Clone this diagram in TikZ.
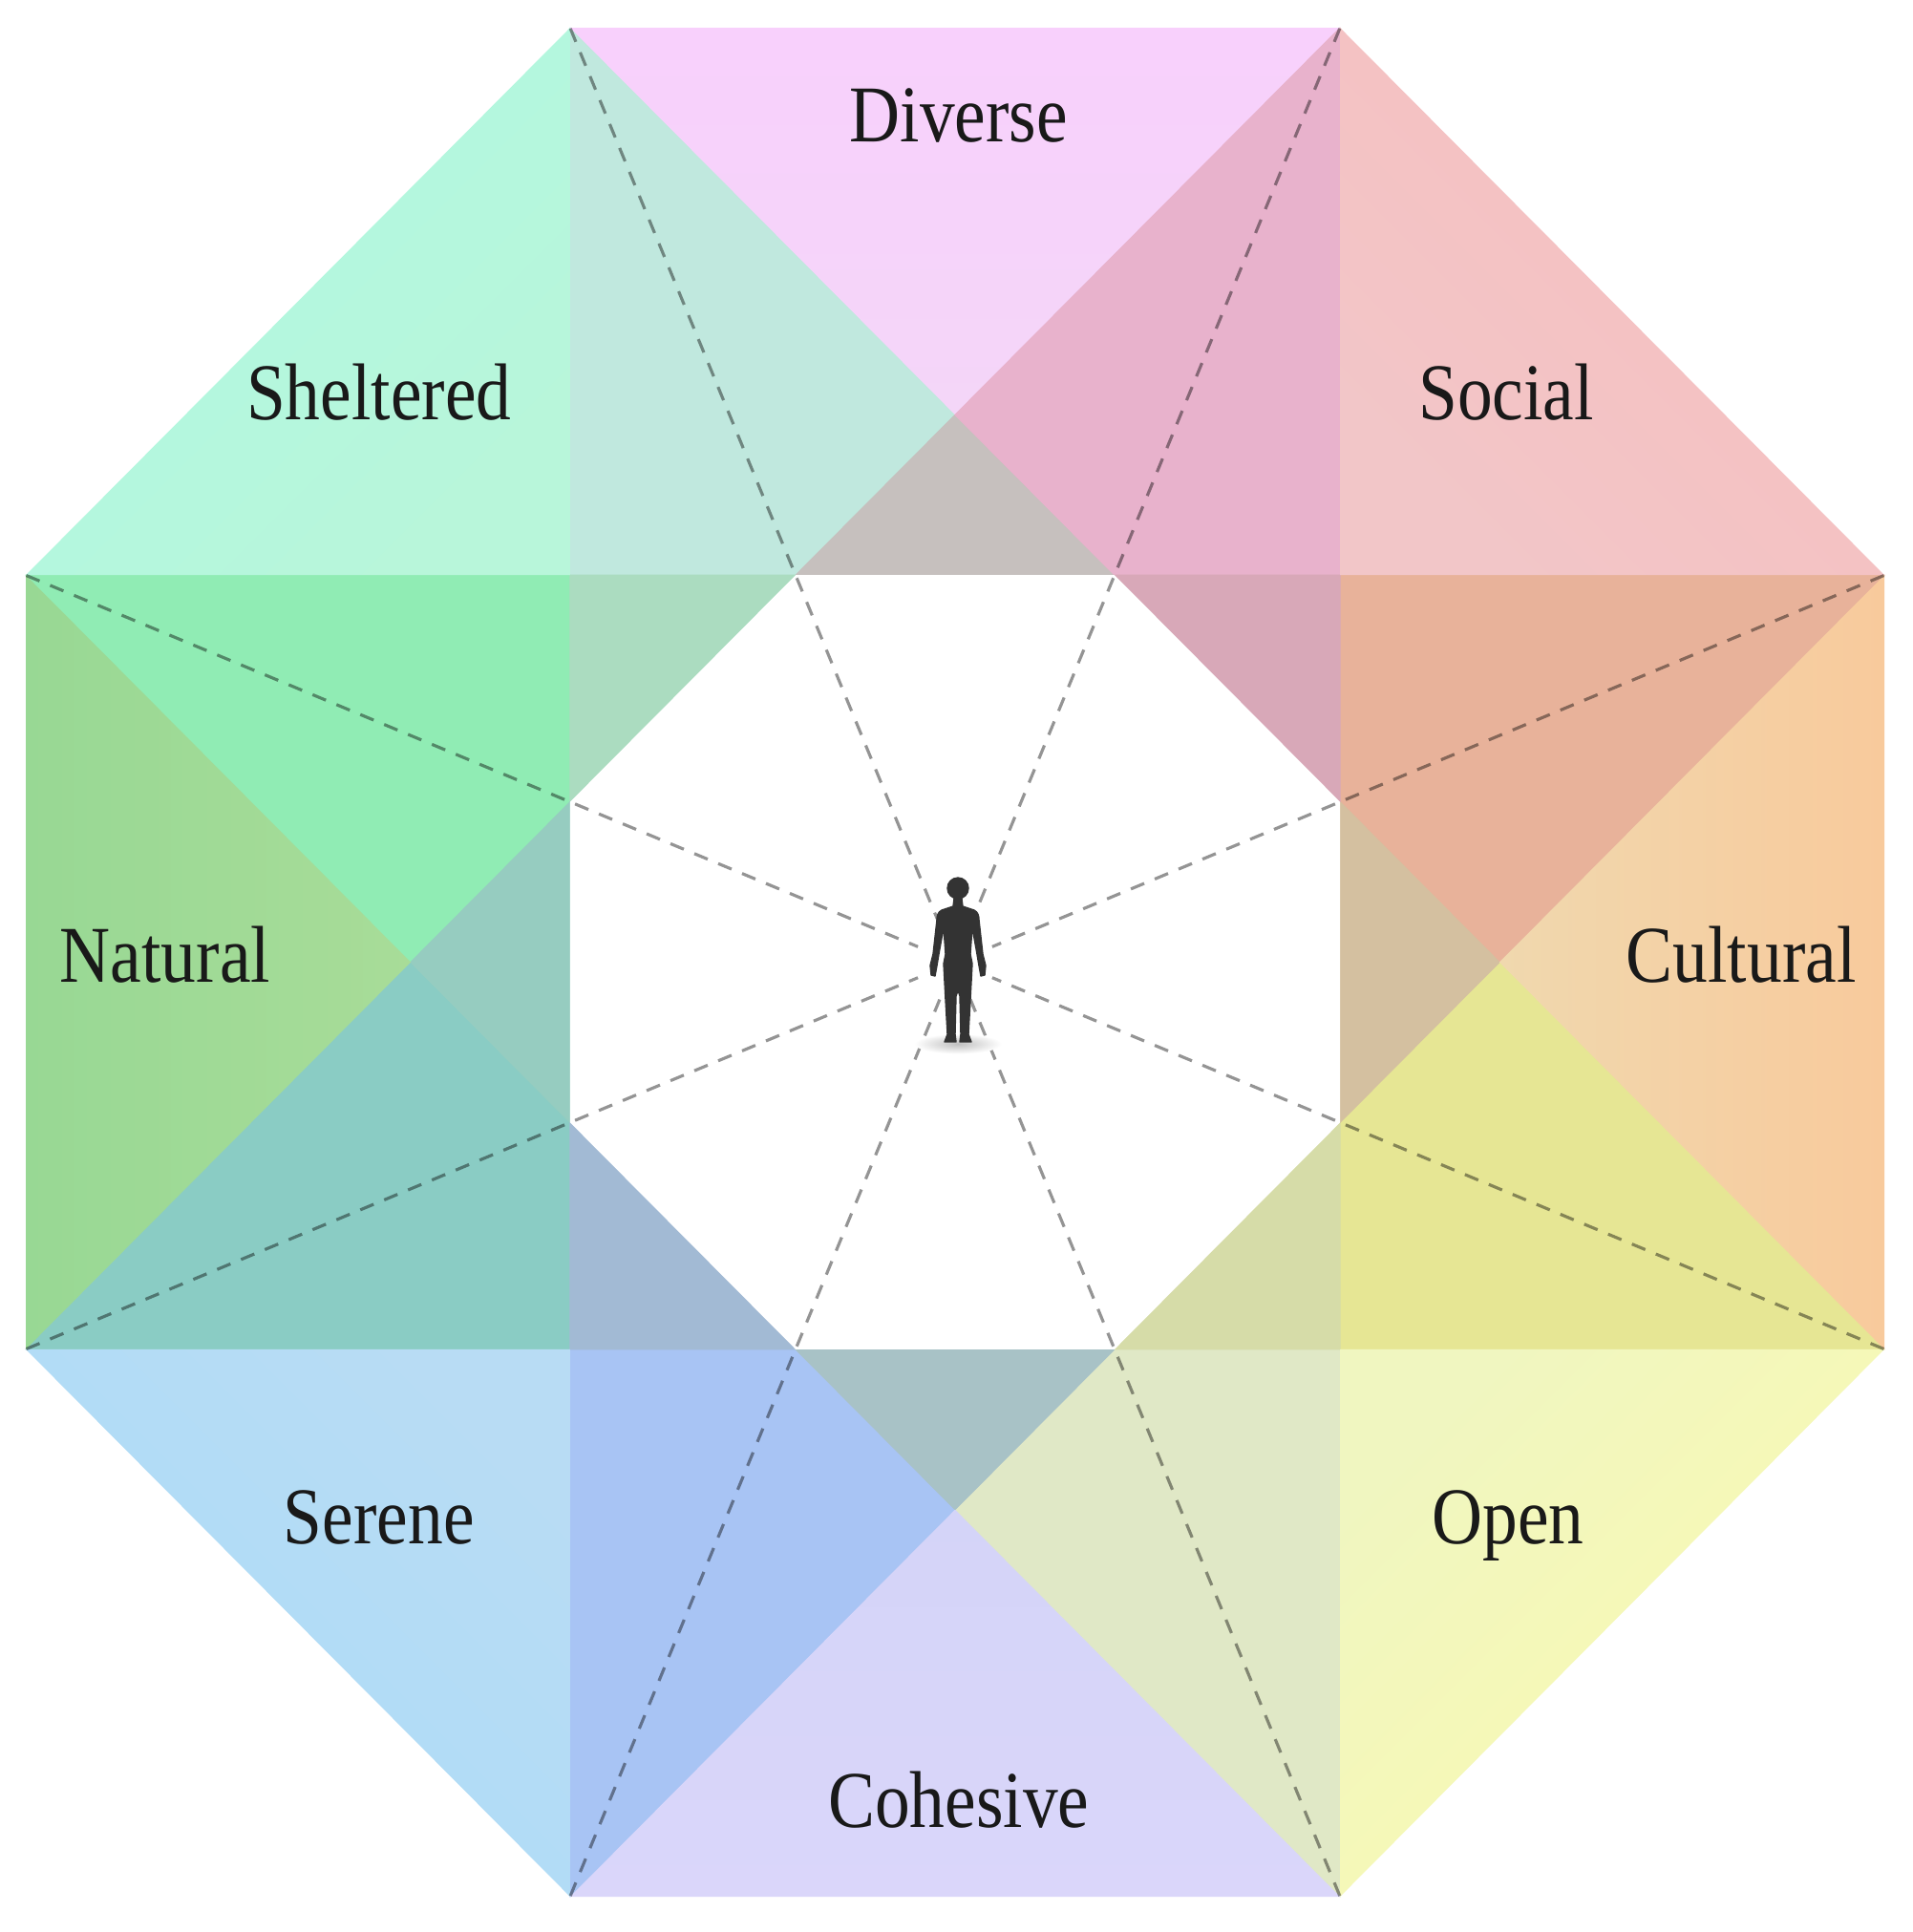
\documentclass[tikz,border=0pt]{standalone}
\usepackage{fontspec}
\setmainfont{Liberation Serif}[FakeStretch=0.87]
\usetikzlibrary{calc}

% pure sectors: outer edge and inner tip
\definecolor{divOut}{HTML}{F8D0FC} \definecolor{divIn}{HTML}{F4D6F8}
\definecolor{sheOut}{HTML}{B0F8E2} \definecolor{sheIn}{HTML}{B8F6DA}
\definecolor{natOut}{HTML}{98D894} \definecolor{natIn}{HTML}{A8DC98}
\definecolor{serOut}{HTML}{ACDCF8} \definecolor{serIn}{HTML}{B8DCF4}
\definecolor{cohOut}{HTML}{DAD6FA} \definecolor{cohIn}{HTML}{D4D4F8}
\definecolor{opeOut}{HTML}{FAFAB0} \definecolor{opeIn}{HTML}{F0F6C0}
\definecolor{culOut}{HTML}{F8CA9C} \definecolor{culIn}{HTML}{F0D8AE}
\definecolor{socOut}{HTML}{F6BEBE} \definecolor{socIn}{HTML}{F2C6C8}
% two sectors overlapping
\definecolor{divShe}{HTML}{C0E8DE}
\definecolor{sheNat}{HTML}{90ECB4}
\definecolor{natSer}{HTML}{8ACCC4}
\definecolor{serCoh}{HTML}{A8C4F4}
\definecolor{cohOpe}{HTML}{E0E8C6}
\definecolor{opeCul}{HTML}{E6E694}
\definecolor{culSoc}{HTML}{E8B29A}
\definecolor{socDiv}{HTML}{E8B2CC}
% three sectors overlapping
\definecolor{divTri}{HTML}{C6C0BE}
\definecolor{sheTri}{HTML}{ABDCC0}
\definecolor{natTri}{HTML}{96CCC0}
\definecolor{serTri}{HTML}{A2BAD4}
\definecolor{cohTri}{HTML}{A8C2C6}
\definecolor{opeTri}{HTML}{D6DCA8}
\definecolor{culTri}{HTML}{D4C0A0}
\definecolor{socTri}{HTML}{D8A8B8}

\tikzset{
  cell/.style={fill=#1, draw=#1, line width=0.3pt, line join=round},
  ray/.style={dash pattern=on 4.3pt off 3.4pt, line width=0.9pt, black, opacity=0.42},
  quality/.style={font=\fontsize{24}{28}\selectfont, text=black!90, anchor=base, inner sep=0pt},
  body/.style={fill=black!80, draw=black!80, line width=0.4pt, line join=round}
}

\begin{document}
\begin{tikzpicture}
\fill[white] (0,0) rectangle (20.03,-20.23);
\useasboundingbox (0,0) rectangle (20.03,-20.23);

\begin{scope}[shift={(10.0,-10.075)}, xscale=9.73, yscale=9.785]
  \pgfmathsetmacro{\tn}{0.41421}   % tan 22.5
  \pgfmathsetmacro{\tsq}{0.17157}  % tan^2
  \pgfmathsetmacro{\apx}{0.58579}  % 1 - tan
  \coordinate (o) at (0,0);
  \coordinate (v0) at (-\tn,1);  \coordinate (v1) at (\tn,1);
  \coordinate (v2) at (1,\tn);   \coordinate (v3) at (1,-\tn);
  \coordinate (v4) at (\tn,-1);  \coordinate (v5) at (-\tn,-1);
  \coordinate (v6) at (-1,-\tn); \coordinate (v7) at (-1,\tn);

  % the eight sectors
  \foreach \k/\sec/\pair/\tri in {0/div/divShe/divTri, 1/she/sheNat/sheTri,
      2/nat/natSer/natTri, 3/ser/serCoh/serTri, 4/coh/cohOpe/cohTri,
      5/ope/opeCul/opeTri, 6/cul/culSoc/culTri, 7/soc/socDiv/socTri} {
    \begin{scope}[rotate=45*\k]
      \path[cell=\pair] (-\tn,1) -- (0,\apx) -- (-\tsq,\tn) -- (-\tn,\tn) -- cycle;
      \path[cell=\tri] (-\tsq,\tn) -- (\tsq,\tn) -- (0,\apx) -- cycle;
      \shade[top color=\sec Out, bottom color=\sec In, shading angle=45*\k]
        (-\tn,1) -- (\tn,1) -- (0,\apx) -- cycle;
    \end{scope}
  }

  % inner octagon
  \fill[white] (-\tsq,\tn) -- (\tsq,\tn) -- (\tn,\tsq) -- (\tn,-\tsq)
    -- (\tsq,-\tn) -- (-\tsq,-\tn) -- (-\tn,-\tsq) -- (-\tn,\tsq) -- cycle;

  \foreach \i in {0,...,7}
    \draw[ray] (v\i) -- ($(v\i)!0.96!(o)$);

  \node[quality] (diverse) at (0.004,0.878) {Diverse};
  \node[quality] (sheltered) at (-0.620,0.581) {Sheltered};
  \node[quality] (social) at (0.593,0.581) {Social};
  \node[quality] (natural) at (-0.850,-0.021) {Natural};
  \node[quality] (cultural) at (0.846,-0.021) {Cultural};
  \node[quality] (serene) at (-0.620,-0.622) {Serene};
  \node[quality] (open) at (0.595,-0.622) {Open};
  \node[quality] (cohesive) at (0.004,-0.926) {Cohesive};
\end{scope}

% person in the middle
\begin{scope}[shift={(10.03,-10.07)}, x=0.01cm, y=-0.01cm]
  \shade[inner color=black!25, outer color=white] (0,86) ellipse (13pt and 3pt);
  \fill[body] (-4,-66) -- (-5,-58) -- (-17,-54) .. controls (-21,-52) and (-22,-48) .. (-22,-44)
    -- (-26,-8) -- (-29,4) -- (-28,14) -- (-24,15) -- (-22,4) -- (-20,-8) -- (-15,-36)
    -- (-13,-8) -- (-15,2) -- (-13,40) -- (-11,76) -- (-14,84) -- (-2,84) -- (-3,76)
    -- (-2,36) -- (0,30) -- (2,36) -- (3,76) -- (2,84) -- (14,84) -- (11,76) -- (13,40)
    -- (15,2) -- (13,-8) -- (15,-36) -- (20,-8) -- (22,4) -- (24,15) -- (28,14) -- (29,4)
    -- (26,-8) -- (22,-44) .. controls (22,-48) and (21,-52) .. (17,-54) -- (5,-58)
    -- (4,-66) -- cycle;
  \fill[body] (0,-77) circle (0.11cm);
\end{scope}
\end{tikzpicture}
\end{document}
